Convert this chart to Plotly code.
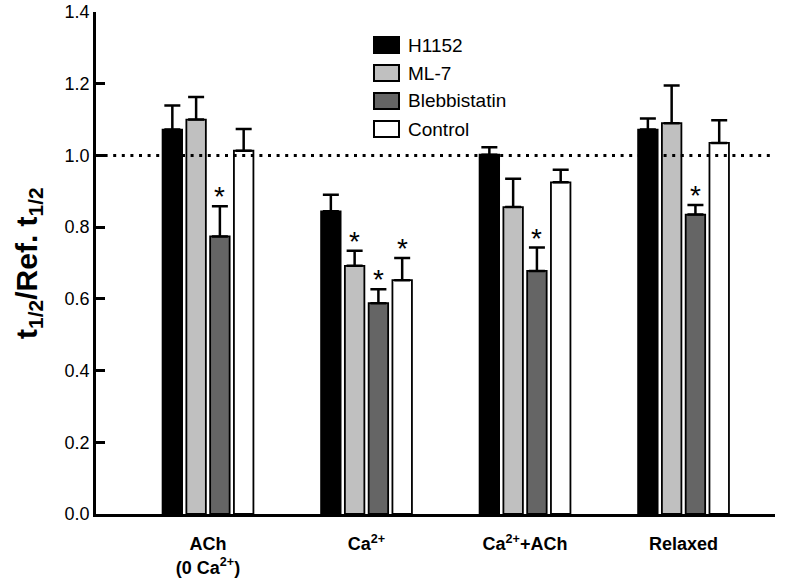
import plotly.graph_objects as go

categories = ["ACh<br>(0 Ca<sup>2+</sup>)", "Ca<sup>2+</sup>", "Ca<sup>2+</sup>+ACh", "Relaxed"]
series_names = ["H1152", "ML-7", "Blebbistatin", "Control"]
h1152 = [1.072, 0.844, 1.002, 1.072]
h1152_err = [0.067, 0.046, 0.021, 0.031]
ml7 = [1.100, 0.692, 0.856, 1.090]
ml7_err = [0.063, 0.042, 0.079, 0.105]
blebb = [0.774, 0.588, 0.678, 0.835]
blebb_err = [0.084, 0.039, 0.065, 0.027]
control = [1.013, 0.652, 0.925, 1.035]
control_err = [0.061, 0.062, 0.035, 0.063]
h1152_sig = [False, False, False, False]
ml7_sig = [False, True, False, False]
blebb_sig = [True, True, True, True]
control_sig = [False, True, False, False]
reference_level = 1.0
y_ticks = [0.0, 0.2, 0.4, 0.6, 0.8, 1.0, 1.2, 1.4]
y_title = "t<sub>1/2</sub>/Ref. t<sub>1/2</sub>"

colors = ["#000000", "#c0c0c0", "#656565", "#ffffff"]
values = [h1152, ml7, blebb, control]
errors = [h1152_err, ml7_err, blebb_err, control_err]
sigs = [h1152_sig, ml7_sig, blebb_sig, control_sig]

W, H = 798, 581
L, R, T, B = 96, 23, 12, 67
BARGAP = 0.40
GROUPGAP = 0.18
FONT = "Liberation Sans, Arial, Helvetica, sans-serif"

x = list(range(len(categories)))
fig = go.Figure()
for name, vals, errs, col in zip(series_names, values, errors, colors):
    fig.add_trace(go.Bar(
        x=x, y=vals, name=name,
        marker=dict(color=col, line=dict(color="black", width=1.8)),
        error_y=dict(type="data", array=errs, arrayminus=[0] * len(errs), symmetric=False,
                     color="black", thickness=2.5, width=8),
        showlegend=False,
    ))

# significance stars
slot = (1 - BARGAP) / len(series_names)
annotations = []
for k, (vals, errs, sg) in enumerate(zip(values, errors, sigs)):
    for i, s in enumerate(sg):
        if s:
            annotations.append(dict(
                x=i + (k - 1.5) * slot, y=vals[i] + errs[i], xref="x", yref="y",
                text="*", showarrow=False, yanchor="bottom", yshift=-8,
                font=dict(family=FONT, size=28, color="black"),
            ))

# manual legend (pixel helpers -> paper coords)
pw, ph = W - L - R, H - T - B
def px(xp):
    return (xp - L) / pw
def py(yp):
    return (H - B - yp) / ph

shapes = [dict(type="line", xref="paper", yref="y", x0=0, x1=1,
               y0=reference_level, y1=reference_level, layer="above",
               line=dict(color="black", width=3, dash="3px,5.6px"))]
for k, (name, col) in enumerate(zip(series_names, colors)):
    cy = 45 + 28 * k
    shapes.append(dict(type="rect", xref="paper", yref="paper",
                       x0=px(374), x1=px(399), y0=py(cy + 8), y1=py(cy - 8),
                       fillcolor=col, line=dict(color="black", width=2)))
    annotations.append(dict(x=px(406), y=py(cy), xref="paper", yref="paper",
                            text=name, showarrow=False, xanchor="left", yanchor="middle",
                            font=dict(family=FONT, size=19, color="black")))

# y-axis title
annotations.append(dict(x=px(28), y=0.5, xref="paper", yref="paper", text=y_title,
                        textangle=-90, showarrow=False, xanchor="center", yanchor="middle",
                        font=dict(family=FONT, size=30, color="black", weight="bold")))

fig.update_layout(
    width=W, height=H,
    margin=dict(l=L, r=R, t=T, b=B, autoexpand=False),
    paper_bgcolor="white", plot_bgcolor="white",
    barmode="group", bargap=BARGAP, bargroupgap=GROUPGAP,
    font=dict(family=FONT, color="black"),
    shapes=shapes, annotations=annotations,
    xaxis=dict(range=[-0.7066, 3.577], tickvals=x, ticktext=categories,
               showline=True, linecolor="black", linewidth=2.5, ticks="",
               showgrid=False, zeroline=False, automargin=False,
               tickfont=dict(family=FONT, size=18, color="black", weight="bold"),
               ticklabelstandoff=12),
    yaxis=dict(range=[0, 1.4], tickvals=y_ticks, tickformat=".1f",
               showline=True, linecolor="black", linewidth=2.5,
               ticks="inside", ticklen=9, tickwidth=2.5, tickcolor="black",
               showgrid=False, zeroline=False, automargin=False,
               ticklabeloverflow="allow",
               tickfont=dict(family=FONT, size=18, color="black")),
)

# remove the browser's default 8px body margin so the figure fills the window exactly
fig.write_html("out.html", config={"displayModeBar": False},
               post_script="document.body.style.margin='0px';")
